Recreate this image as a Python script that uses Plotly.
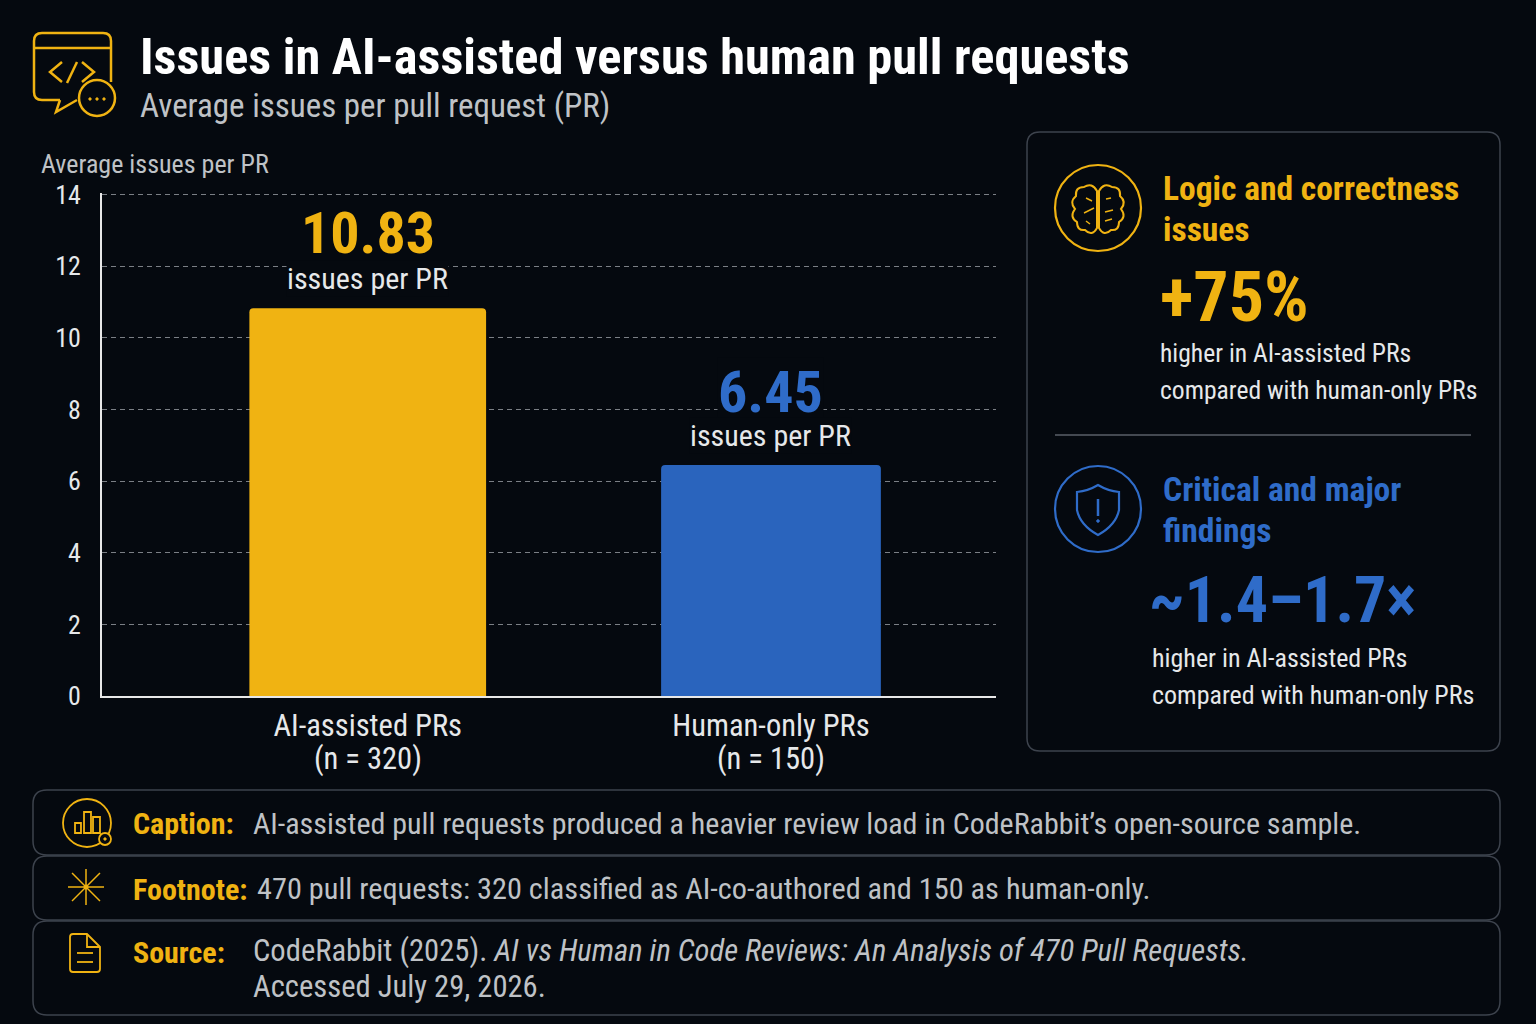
import plotly.graph_objects as go

# canvas is 1536x1024, margins are 0 so paper coords map straight onto pixels
W = 1536
H = 1024
FONT = "Roboto Condensed"
BG = "#05090f"
YELLOW = "#f0b312"
BLUE = "#2a64bd"
BLUE_TEXT = "#2f6cc9"
LIGHT = "#e6e8ea"
GREY = "#bfc2c6"
BORDER = "#3d434d"

# data
categories = ["AI-assisted PRs", "Human-only PRs"]
sample_sizes = [320, 150]
issues_per_pr = [10.83, 6.45]
tick_values = [0, 2, 4, 6, 8, 10, 12, 14]

title = "Issues in AI-assisted versus human pull requests"
subtitle = "Average issues per pull request (PR)"
axis_title = "Average issues per PR"
unit_label = "issues per PR"
higher_1 = "higher in AI-assisted PRs"
higher_2 = "compared with human-only PRs"
caption = "AI-assisted pull requests produced a heavier review load in CodeRabbit\u2019s open-source sample."
footnote = "470 pull requests: 320 classified as AI-co-authored and 150 as human-only."
source_1 = "CodeRabbit (2025). <i>AI vs Human in Code Reviews: An Analysis of 470 Pull Requests.</i>"
source_2 = "Accessed July 29, 2026."

bar_colors = [YELLOW, BLUE]
label_colors = [YELLOW, BLUE_TEXT]


def px(x):
    return x / W


def py(y):
    return 1 - y / H


def path(points, close=False):
    # polyline in pixel coords -> svg path in paper coords
    s = "M" + " L".join(f"{px(x):.5f},{py(y):.5f}" for x, y in points)
    return s + (" Z" if close else "")


def curve(d):
    # d is a list of (command, pixel coords...) for paths with curves
    out = []
    for cmd, *coords in d:
        pairs = [f"{px(coords[i]):.5f},{py(coords[i + 1]):.5f}" for i in range(0, len(coords), 2)]
        out.append(cmd + " ".join(pairs))
    return " ".join(out)


def round_rect(x0, y0, x1, y1, r):
    return curve([("M", x0 + r, y0), ("L", x1 - r, y0), ("Q", x1, y0, x1, y0 + r),
                  ("L", x1, y1 - r), ("Q", x1, y1, x1 - r, y1), ("L", x0 + r, y1),
                  ("Q", x0, y1, x0, y1 - r), ("L", x0, y0 + r), ("Q", x0, y0, x0 + r, y0), ("Z",)])


shapes = []


def add_path(d, color, width=2, fill="rgba(0,0,0,0)"):
    shapes.append(dict(type="path", xref="paper", yref="paper", path=d,
                       line=dict(color=color, width=width), fillcolor=fill, layer="above"))


def add_circle(cx, cy, r, color, width=2, fill="rgba(0,0,0,0)"):
    shapes.append(dict(type="circle", xref="paper", yref="paper", x0=px(cx - r), x1=px(cx + r),
                       y0=py(cy + r), y1=py(cy - r),
                       line=dict(color=color, width=width), fillcolor=fill, layer="above"))


# panels
add_path(round_rect(1027, 132, 1500, 751, 13), BORDER, 1.5)
add_path(path([(1055, 435), (1471, 435)]), "#5a5f68", 1.5)
add_path(round_rect(33, 790, 1500, 855, 14), BORDER, 1.5)
add_path(round_rect(33, 856, 1500, 920, 14), BORDER, 1.5)
add_path(round_rect(33, 921, 1500, 1015, 14), BORDER, 1.5)

# header icon: code window with speech tail and dots bubble
add_path(curve([("M", 60, 100), ("L", 42, 100), ("Q", 34, 100, 34, 92), ("L", 34, 41),
                ("Q", 34, 33, 42, 33), ("L", 103, 33), ("Q", 111, 33, 111, 41), ("L", 111, 82)]), YELLOW, 2.5)
add_path(path([(60, 100), (56, 112), (77, 100)]), YELLOW, 2.5)
add_path(path([(34, 48), (111, 48)]), YELLOW, 2.5)
add_path(path([(62, 62), (50, 72), (62, 82)]), YELLOW, 2.5)
add_path(path([(82, 62), (94, 72), (82, 82)]), YELLOW, 2.5)
add_path(path([(77, 62), (67, 83)]), YELLOW, 2.5)
add_circle(97, 98, 18, YELLOW, 2.5, BG)
for dot_x in (90, 97, 104):
    add_circle(dot_x, 99, 1.2, YELLOW, 1, YELLOW)

# brain icon, two mirrored lobes
add_circle(1098, 208, 43, YELLOW, 2.2)
for m in (-1, 1):
    add_path(curve([("M", 1098 + m, 191), ("Q", 1098 + 6 * m, 182, 1098 + 14 * m, 187),
                    ("Q", 1098 + 23 * m, 187, 1098 + 22 * m, 196), ("Q", 1098 + 29 * m, 202, 1098 + 23 * m, 209),
                    ("Q", 1098 + 29 * m, 217, 1098 + 21 * m, 222), ("Q", 1098 + 21 * m, 231, 1098 + 13 * m, 230),
                    ("Q", 1098 + 6 * m, 237, 1098 + m, 228), ("Z",)]), YELLOW, 2)
add_path(path([(1084, 213), (1094, 208)]), YELLOW, 1.5)
add_path(path([(1086, 198), (1092, 201)]), YELLOW, 1.5)
add_path(path([(1106, 199), (1111, 198)]), YELLOW, 1.5)
add_path(path([(1105, 212), (1113, 210)]), YELLOW, 1.5)
add_path(path([(1105, 221), (1112, 219)]), YELLOW, 1.5)
add_path(path([(1086, 221), (1090, 224)]), YELLOW, 1.5)

# shield icon
add_circle(1098, 509, 43, BLUE_TEXT, 2.2)
add_path(curve([("M", 1098, 485), ("Q", 1088, 491, 1077, 492), ("L", 1077, 510),
                ("Q", 1080, 525, 1098, 535), ("Q", 1116, 525, 1119, 510), ("L", 1119, 492),
                ("Q", 1108, 491, 1098, 485), ("Z",)]), BLUE_TEXT, 2.2)
add_path(path([(1098, 499), (1098, 516)]), BLUE_TEXT, 2.5)
add_circle(1098, 521, 1.3, BLUE_TEXT, 1, BLUE_TEXT)

# caption icon
add_circle(87, 823, 24, YELLOW, 1.8)
for x0, x1, top in ((75, 81, 823), (84, 91, 812), (93, 100, 817)):
    add_path(path([(x0, 833), (x0, top), (x1, top), (x1, 833)], close=True), YELLOW, 1.8)
add_circle(105, 839, 6, YELLOW, 1.8, BG)
add_circle(105, 839, 1.2, YELLOW, 1, YELLOW)

# footnote icon
for a, b in (((86, 869), (86, 905)), ((68, 887), (104, 887)), ((72, 873), (100, 901)), ((100, 873), (72, 901))):
    add_path(path([a, b]), YELLOW, 1.5)
add_circle(86, 887, 2, YELLOW, 1, YELLOW)

# source icon
add_path(curve([("M", 87, 934), ("L", 73, 934), ("Q", 70, 934, 70, 937), ("L", 70, 969),
                ("Q", 70, 972, 73, 972), ("L", 97, 972), ("Q", 100, 972, 100, 969), ("L", 100, 947),
                ("Z",)]), YELLOW, 1.8)
add_path(path([(87, 934), (87, 947), (100, 947)]), YELLOW, 1.8)
add_path(path([(77, 953), (93, 953)]), YELLOW, 1.8)
add_path(path([(77, 962), (93, 962)]), YELLOW, 1.8)

annotations = []


def add_text(x, y, text, size, color, bold=False, anchor="left"):
    # x is where the glyphs should start, the text box sits about 2px further left
    annotations.append(dict(xref="paper", yref="paper", x=px(x - 2), y=py(y), text=f"<b>{text}</b>" if bold else text,
                            showarrow=False, xanchor=anchor, yanchor="middle", align=anchor,
                            font=dict(family=FONT, size=size, color=color), borderpad=0))


add_text(141, 56, title, 50.4, "#ffffff", True)
add_text(141, 105, subtitle, 33, GREY)
add_text(42, 164, axis_title, 26, GREY)

add_text(1164, 188, "Logic and correctness", 33.5, YELLOW, True)
add_text(1164, 229, "issues", 33.5, YELLOW, True)
add_text(1161, 297, "+75%", 70, YELLOW, True)
add_text(1161, 353, higher_1, 25.6, LIGHT)
add_text(1161, 390, higher_2, 25.6, LIGHT)

add_text(1164, 489, "Critical and major", 33.6, BLUE_TEXT, True)
add_text(1164, 530, "findings", 33.6, BLUE_TEXT, True)
add_text(1150, 600, "~1.4\u20131.7\u00d7", 64, BLUE_TEXT, True)
add_text(1153, 658, higher_1, 26, LIGHT)
add_text(1153, 695, higher_2, 26, LIGHT)

add_text(134, 823, "Caption:", 30, YELLOW, True)
add_text(254, 823, caption, 30, GREY)
add_text(134, 889, "Footnote:", 30, YELLOW, True)
add_text(258, 888, footnote, 30.3, GREY)
add_text(134, 952, "Source:", 30, YELLOW, True)
add_text(254, 951, source_1, 30.6, GREY)
add_text(254, 986, source_2, 30.6, GREY)

# value labels sit above the bars, offsets in pixels
value_shift = [75, 73]
value_bg = [None, BG]
for cat, n, val, col, shift, bg in zip(categories, sample_sizes, issues_per_pr, label_colors, value_shift, value_bg):
    annotations.append(dict(xref="x", yref="y", x=cat, y=val, yshift=shift, text=f"<b>{val:.2f}</b>", showarrow=False,
                            yanchor="middle", font=dict(family=FONT, size=58, color=col), bgcolor=bg, borderpad=0))
    annotations.append(dict(xref="x", yref="y", x=cat, y=val, yshift=30, text=unit_label, showarrow=False,
                            yanchor="middle", font=dict(family=FONT, size=30, color=LIGHT), bgcolor=BG, borderpad=0))
    annotations.append(dict(xref="x", yref="paper", x=cat, y=py(759), text=f"(n = {n})", showarrow=False,
                            yanchor="middle", font=dict(family=FONT, size=30.5, color=LIGHT)))

fig = go.Figure(go.Bar(x=categories, y=issues_per_pr, width=[0.587, 0.545],
                       marker=dict(color=bar_colors, cornerradius=4, line=dict(width=0)),
                       hoverinfo="skip"))

fig.update_layout(
    width=W, height=H, margin=dict(l=0, r=0, t=0, b=0), autosize=False,
    paper_bgcolor=BG, plot_bgcolor=BG, showlegend=False,
    font=dict(family=FONT, color=LIGHT),
    shapes=shapes, annotations=annotations,
    xaxis=dict(domain=[102 / W, 996 / W], range=[-0.659, 1.558], type="category", automargin=False,
               showgrid=False, showline=True, linecolor="#e8e8e8", linewidth=2, ticks="",
               tickfont=dict(family=FONT, size=30.5, color=LIGHT), ticklabelstandoff=1, zeroline=False),
    # range runs a hair past 14, otherwise plotly drops the top gridline
    yaxis=dict(domain=[1 - 696 / H, 1 - 193 / H], range=[0, 14.05], tickvals=tick_values, automargin=False,
               showline=True, linecolor="#e8e8e8", linewidth=2, ticks="",
               gridcolor="#7b7f85", griddash="5px,4px", gridwidth=1, zeroline=False,
               tickfont=dict(family=FONT, size=26, color=LIGHT), ticklabelstandoff=14),
)

fig.write_html("out.html", config=dict(displayModeBar=False),
               post_script=f"document.body.style.margin='0';document.body.style.background='{BG}';")
